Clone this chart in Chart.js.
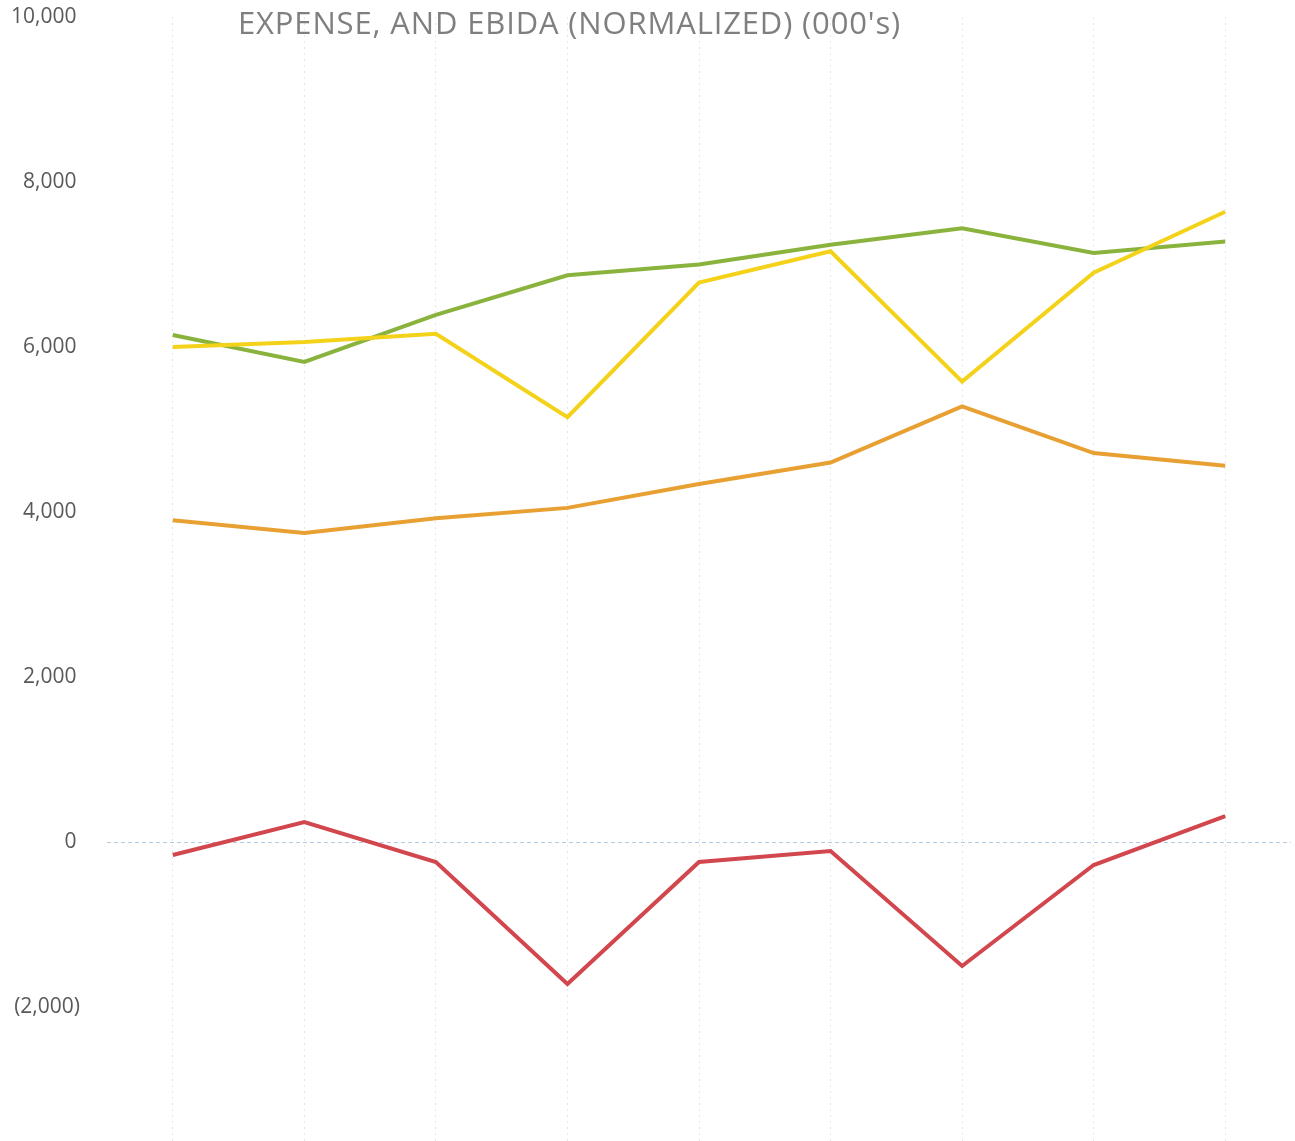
<!DOCTYPE html>
<html>
<head>
<meta charset="utf-8">
<script src="https://cdn.jsdelivr.net/npm/chart.js@4.4.1/dist/chart.umd.min.js"></script>
<style>
  html, body { margin: 0; padding: 0; background: #ffffff; }
  #wrap { position: relative; width: 1295px; height: 1141px; }
  #title {
    position: absolute; left: 238px; top: 0px;
    font-family: "Open Sans", sans-serif; font-size: 31px; line-height: 44px;
    color: #7f7f7f; white-space: nowrap; letter-spacing: 0.85px;
  }
  canvas { position: absolute; left: 0; top: 0; }
</style>
</head>
<body>
<div id="wrap">
  <canvas id="c" width="1295" height="1141"></canvas>
  <div id="title">EXPENSE, AND EBIDA (NORMALIZED) (000's)</div>
</div>
<script>
// ---- data ----
const categories = ["P1", "P2", "P3", "P4", "P5", "P6", "P7", "P8", "P9"];
const revenue = [6000, 6060, 6160, 5150, 6780, 7160, 5580, 6900, 7640];
const expense = [6145, 5820, 6390, 6870, 7000, 7240, 7440, 7140, 7280];
const otherSeries = [3900, 3745, 3925, 4050, 4340, 4600, 5280, 4715, 4560];
const ebida = [-158, 242, -242, -1721, -242, -109, -1503, -279, 315];
const yTicks = [-2000, 0, 2000, 4000, 6000, 8000, 10000];

function fmt(v) {
  const s = Math.abs(v).toLocaleString('en-US');
  return v < 0 ? '(' + s + ')' : s + '\u2009';
}

function noPad(axis) {
  axis.paddingTop = 0; axis.paddingBottom = 0;
  axis.paddingLeft = 0; axis.paddingRight = 0;
}

new Chart(document.getElementById('c'), {
  type: 'line',
  data: {
    labels: categories,
    datasets: [
      { label: 'Other', data: otherSeries, borderColor: '#E8A033' },
      { label: 'EBIDA', data: ebida, borderColor: '#D2464E' },
      { label: 'Revenue', data: revenue, borderColor: '#F4D21A' },
      { label: 'Expense', data: expense, borderColor: '#8AB33E' }
    ].map(d => Object.assign({ borderWidth: 4, pointRadius: 0, tension: 0, fill: false }, d))
  },
  options: {
    responsive: false,
    animation: false,
    layout: { padding: { top: 17, right: 4, bottom: 0, left: 0 } },
    plugins: { legend: { display: false }, tooltip: { enabled: false }, title: { display: false } },
    scales: {
      x: {
        offset: true,
        afterFit: (axis) => { axis.height = 0; noPad(axis); },
        ticks: { display: false },
        grid: { color: 'rgba(200,215,230,0.6)', drawTicks: false, offset: false },
        border: { display: false, dash: [2, 4] }
      },
      y: {
        min: -3624,
        max: 10000,
        afterBuildTicks: (axis) => { axis.ticks = yTicks.map(v => ({ value: v })); },
        afterFit: (axis) => { axis.width = 107; noPad(axis); },
        ticks: {
          padding: 27,
          color: '#595959',
          font: { family: 'Open Sans', size: 21 },
          callback: (v) => fmt(v)
        },
        grid: {
          drawTicks: false,
          color: (ctx) => (ctx.tick && ctx.tick.value === 0) ? '#b3cbe0' : 'rgba(0,0,0,0)',
          lineWidth: 1
        },
        border: { display: false, dash: [4, 3] }
      }
    }
  }
});
</script>
</body>
</html>
